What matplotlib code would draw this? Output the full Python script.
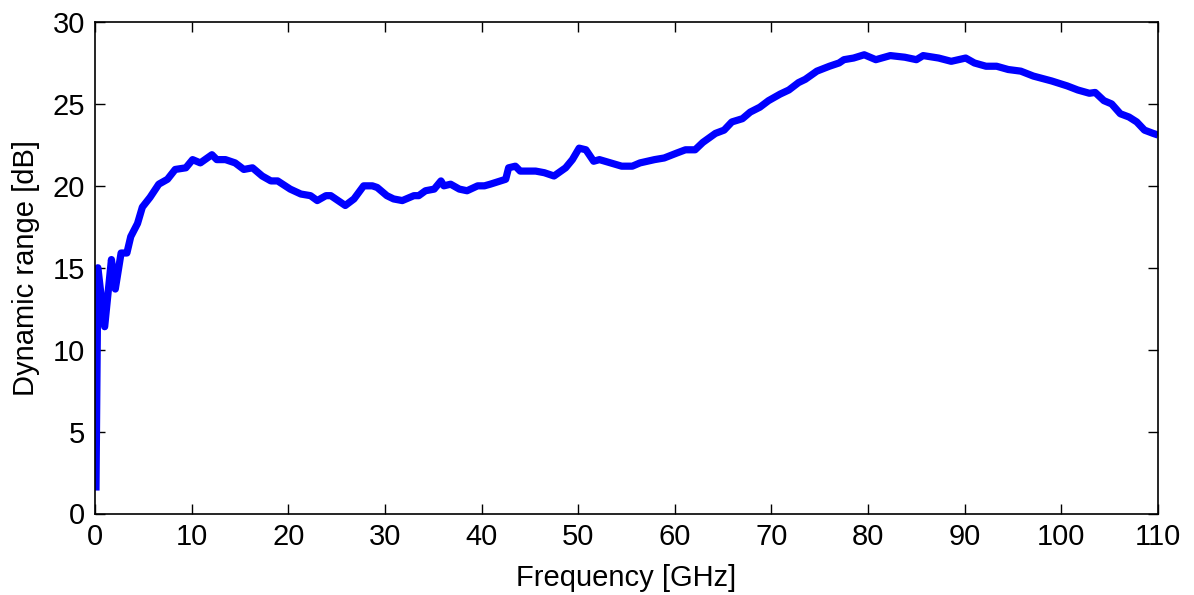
import matplotlib
matplotlib.use("Agg")
import matplotlib.pyplot as plt

freq_ghz = [0.1, 0.3, 1.0, 1.7, 2.1, 2.7, 3.3, 3.7, 4.4, 4.9, 5.7, 6.6, 7.5, 8.3, 9.4,
            10.1, 10.9, 12.1, 12.6, 13.5, 14.5, 15.4, 16.3, 17.3, 18.2, 18.9, 20.2,
            21.3, 22.3, 23.0, 23.9, 24.4, 25.9, 26.8, 27.8, 28.7, 29.2, 30.2, 30.9,
            31.8, 33.0, 33.5, 34.2, 35.1, 35.8, 36.1, 36.8, 37.7, 38.5, 39.6, 40.3,
            40.9, 42.5, 42.8, 43.5, 44.0, 45.6, 46.5, 47.5, 48.7, 49.4, 50.1, 50.8,
            51.6, 52.2, 54.5, 55.6, 56.4, 57.9, 58.9, 60.2, 61.1, 62.1, 62.9, 64.2,
            65.1, 65.9, 67.0, 67.8, 68.8, 69.7, 70.9, 71.8, 72.8, 73.5, 74.7, 76.0,
            77.0, 77.5, 78.5, 79.6, 80.8, 82.3, 83.8, 85.0, 85.7, 87.3, 88.6, 90.1,
            91.0, 92.2, 93.3, 94.5, 95.8, 97.1, 99.0, 100.6, 101.7, 102.9, 103.5,
            104.4, 105.2, 106.1, 107.0, 107.8, 108.6, 109.5, 110.0]
dyn_range_db = [1.4, 15.0, 11.4, 15.5, 13.7, 15.9, 15.9, 16.9, 17.7, 18.7, 19.3, 20.1,
                20.4, 21.0, 21.1, 21.6, 21.4, 21.9, 21.6, 21.6, 21.4, 21.0, 21.1, 20.6,
                20.3, 20.3, 19.8, 19.5, 19.4, 19.1, 19.4, 19.4, 18.8, 19.2, 20.0, 20.0,
                19.9, 19.4, 19.2, 19.1, 19.4, 19.4, 19.7, 19.8, 20.3, 20.0, 20.1, 19.8,
                19.7, 20.0, 20.0, 20.1, 20.4, 21.1, 21.2, 20.9, 20.9, 20.8, 20.6, 21.1,
                21.6, 22.3, 22.2, 21.5, 21.6, 21.2, 21.2, 21.4, 21.6, 21.7, 22.0, 22.2,
                22.2, 22.65, 23.2, 23.4, 23.9, 24.1, 24.5, 24.8, 25.2, 25.6, 25.85, 26.3,
                26.5, 27.0, 27.3, 27.5, 27.7, 27.8, 28.0, 27.7, 27.95, 27.85, 27.7, 27.95,
                27.8, 27.6, 27.8, 27.5, 27.3, 27.3, 27.1, 27.0, 26.7, 26.4, 26.1, 25.85,
                25.65, 25.7, 25.2, 25.0, 24.4, 24.2, 23.9, 23.4, 23.2, 23.1]
x_ticks = list(range(0, 111, 10))
y_ticks = list(range(0, 31, 5))

plt.rcParams['font.family'] = ['Liberation Sans', 'DejaVu Sans']

fig = plt.figure(figsize=(11.94, 5.95), dpi=100)
ax = fig.add_axes([95 / 1194, (595 - 513.5) / 595, (1158 - 95) / 1194, (513.5 - 22) / 595])
ax.plot(freq_ghz, dyn_range_db, color=(0, 0, 1), linewidth=5.2, solid_joinstyle='round',
        solid_capstyle='butt')
ax.set_xlim(0, 110)
ax.set_ylim(0, 30)
ax.set_xticks(x_ticks)
ax.set_yticks(y_ticks)
ax.tick_params(direction='in', length=7, width=1, top=True, right=True,
               labelsize=21, colors='black')
ax.tick_params(axis='y', pad=7)
ax.tick_params(axis='x', pad=7)
for s in ax.spines.values():
    s.set_linewidth(1.2)
ax.set_xlabel('Frequency [GHz]', fontsize=21, labelpad=9)
ax.set_ylabel('Dynamic range [dB]', fontsize=21, labelpad=9)
fig.savefig('out.png', dpi=100)
